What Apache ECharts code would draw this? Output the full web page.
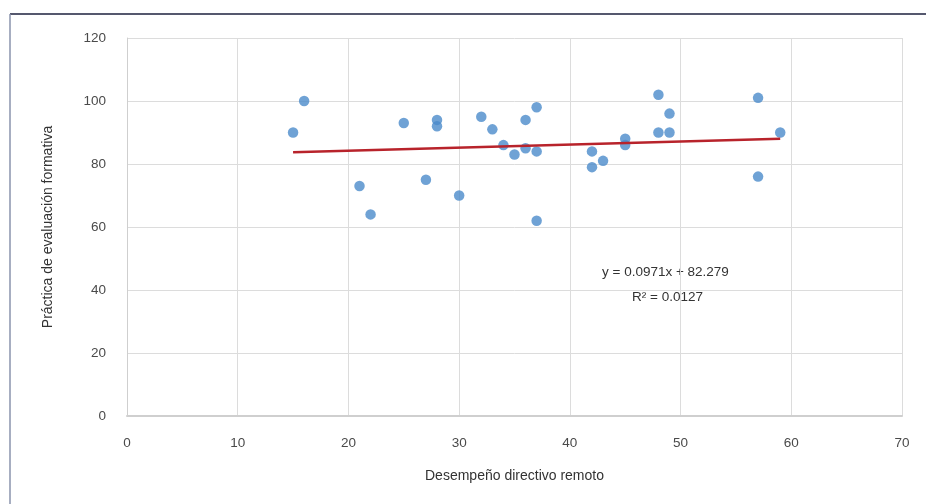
<!DOCTYPE html>
<html>
<head>
<meta charset="utf-8">
<script src="https://cdn.jsdelivr.net/npm/echarts@6/dist/echarts.min.js"></script>
<style>
html,body{margin:0;padding:0;background:#fff;}
#chart{width:926px;height:504px;}
</style>
</head>
<body>
<div id="chart"></div>
<script>
// Data
const xValues = [15,16,21,22,25,27,28,28,30,32,33,34,35,36,36,37,37,37,42,42,43,45,45,48,48,49,49,57,57,59];
const yValues = [90,100,73,64,93,75,94,92,70,95,91,86,83,94,85,98,84,62,84,79,81,88,86,102,90,96,90,101,76,90];
const trendX = [15, 59];
const trendY = [83.74, 88.01];
const xTicks = [0,10,20,30,40,50,60,70];
const yTicks = [0,20,40,60,80,100,120];
const xTitle = 'Desempeño directivo remoto';
const yTitle = 'Práctica de evaluación formativa';
const eqLines = ['y = 0.0971x + 82.279', 'R² = 0.0127'];

const points = xValues.map((x,i)=>[x,yValues[i]]);
const trend = trendX.map((x,i)=>[x,trendY[i]]);

const chart = echarts.init(document.getElementById('chart'), null, {renderer:'canvas'});
const font = 'Liberation Sans, Arial, sans-serif';
chart.setOption({
  animation:false,
  backgroundColor:'#fff',
  grid:{left:127, top:38, right:24, bottom:88, containLabel:false},
  xAxis:{
    type:'value', min:xTicks[0], max:xTicks[xTicks.length-1], interval:10,
    name:xTitle, nameLocation:'middle', nameGap:53,
    nameTextStyle:{color:'#333', fontSize:14, fontFamily:font},
    axisLine:{show:true, lineStyle:{color:'#cfcfcf', width:2}},
    axisTick:{show:false},
    axisLabel:{color:'#4a4a4a', fontSize:13.5, fontFamily:font, margin:20},
    splitLine:{show:true, lineStyle:{color:'#dcdcdc', width:1}}
  },
  yAxis:{
    type:'value', min:yTicks[0], max:yTicks[yTicks.length-1], interval:20,
    name:yTitle, nameLocation:'middle', nameGap:72,
    nameTextStyle:{color:'#333', fontSize:14, fontFamily:font},
    axisLine:{show:true, lineStyle:{color:'#cfcfcf', width:1}},
    axisTick:{show:false},
    axisLabel:{color:'#4a4a4a', fontSize:13.5, fontFamily:font, margin:21},
    splitLine:{show:true, lineStyle:{color:'#dcdcdc', width:1}}
  },
  series:[
    {
      type:'scatter', data:points, symbol:'circle', symbolSize:10.5,
      itemStyle:{color:'#4b8bcb'}, z:3
    },
    {
      type:'line', data:trend, symbol:'none', showSymbol:false,
      lineStyle:{color:'#b8232b', width:2.5}, z:4
    }
  ],
  graphic:[
    {type:'line', shape:{x1:10, y1:14, x2:926, y2:14}, style:{stroke:'#55586e', lineWidth:2}},
    {type:'line', shape:{x1:10, y1:14, x2:10, y2:504}, style:{stroke:'#8a93ad', lineWidth:1.5}},
    {type:'text', left:677-75, top:265, style:{text:eqLines[0], fill:'#333', font:'13.5px '+font, width:150, align:'center'}},
    {type:'text', left:677-45, top:290, style:{text:eqLines[1], fill:'#333', font:'13.5px '+font, width:90, align:'center'}}
  ]
});
</script>
</body>
</html>
